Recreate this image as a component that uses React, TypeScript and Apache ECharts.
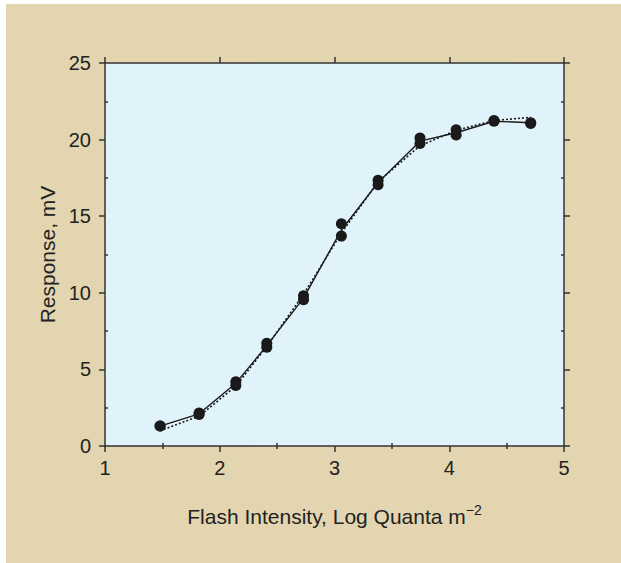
import React, { useEffect, useRef } from "react";
import * as echarts from "echarts";

const xTickLabels = ["1", "2", "3", "4", "5"];
const yTickLabels = ["0", "5", "10", "15", "20", "25"];

const intensity = [1.48, 1.82, 2.14, 2.41, 2.73, 3.06, 3.38, 3.745, 4.06, 4.39, 4.71];
const responseA = [1.3, 2.15, 4.2, 6.7, 9.8, 14.5, 17.35, 20.1, 20.65, 21.25, 21.1];
const responseB = [1.3, 2.05, 3.95, 6.45, 9.55, 13.7, 17.05, 19.75, 20.3, 21.2, 21.05];
const meanLine = [1.3, 2.1, 4.1, 6.55, 9.65, 14.1, 17.2, 19.9, 20.45, 21.2, 21.1];
const fitLine = [1.0, 1.95, 3.9, 6.5, 9.9, 13.9, 17.25, 19.6, 20.6, 21.25, 21.45];

const TAN = "#e2d5b0";
const PLOT = "#e0f3fa";
const INK = "#1a1a1a";
const FONT = "Liberation Sans, Arial, Helvetica, sans-serif";

export default function App() {
  const ref = useRef<HTMLDivElement>(null);
  useEffect(() => {
    if (!ref.current) return;
    const chart = echarts.init(ref.current, undefined, { renderer: "svg" });
    const pts = (ys: number[]) => intensity.map((x, i) => [x, ys[i]]);
    const axisBase = {
      type: "value" as const,
      splitLine: { show: false },
      axisLine: { show: true, onZero: false, lineStyle: { color: "#333", width: 1.5 } },
    };
    const xCommon = { ...axisBase, min: 1, max: 5, interval: 1 };
    const yCommon = { ...axisBase, min: 0, max: 25, interval: 5 };
    const majorOut = { show: true, inside: false, length: 6, lineStyle: { color: "#333", width: 1.5 } };
    const minorIn = {
      axisTick: { show: false, inside: true },
      minorTick: { show: true, splitNumber: 2, length: 3, lineStyle: { color: "#333", width: 1.5 } },
      axisLabel: { show: false },
    };
    chart.setOption({
      animation: false,
      backgroundColor: "#ffffff",
      textStyle: { fontFamily: FONT },
      graphic: [
        { type: "rect", z: -10, silent: true, shape: { x: 6, y: 4, width: 700, height: 700 }, style: { fill: TAN } },
      ],
      grid: {
        left: 105, top: 63, right: 57, bottom: 117,
        show: true, backgroundColor: PLOT, borderWidth: 0,
      },
      xAxis: [
        {
          ...xCommon, position: "bottom",
          axisTick: majorOut,
          axisLabel: { show: true, color: "#222", fontSize: 20, fontFamily: FONT, margin: 12,
            formatter: (v: number) => xTickLabels[Math.round(v) - 1] ?? "" },
          name: "{a|Flash Intensity, Log Quanta m}{s|−2}",
          nameLocation: "middle", nameGap: 57,
          nameTextStyle: {
            color: "#222", fontFamily: FONT,
            rich: {
              a: { fontSize: 21, fontFamily: FONT, color: "#222" },
              s: { fontSize: 14, fontFamily: FONT, color: "#222", padding: [0, 0, 12, 0] },
            },
          },
        },
        { ...xCommon, position: "top", axisTick: majorOut, axisLabel: { show: false } },
        { ...xCommon, position: "bottom", axisLine: { show: false }, ...minorIn },
        { ...xCommon, position: "top", axisLine: { show: false }, ...minorIn },
      ],
      yAxis: [
        {
          ...yCommon, position: "left",
          axisTick: majorOut,
          axisLabel: { show: true, color: "#222", fontSize: 20, fontFamily: FONT, margin: 14,
            formatter: (v: number) => yTickLabels[Math.round(v / 5)] ?? "" },
          name: "Response, mV",
          nameLocation: "middle", nameGap: 46,
          nameTextStyle: { color: "#222", fontSize: 21, fontFamily: FONT },
        },
        { ...yCommon, position: "right", axisTick: majorOut, axisLabel: { show: false } },
        { ...yCommon, position: "left", axisLine: { show: false }, ...minorIn },
        { ...yCommon, position: "right", axisLine: { show: false }, ...minorIn },
      ],
      series: [
        {
          type: "line", data: pts(fitLine), showSymbol: false, symbol: "none",
          lineStyle: { color: INK, width: 1.6, type: [2, 2] }, z: 2,
        },
        {
          type: "line", data: pts(meanLine), showSymbol: false, symbol: "none",
          lineStyle: { color: INK, width: 1.4 }, z: 3,
        },
        {
          type: "scatter", data: pts(responseA), symbol: "circle", symbolSize: 11,
          itemStyle: { color: INK, opacity: 1 }, z: 4,
        },
        {
          type: "scatter", data: pts(responseB), symbol: "circle", symbolSize: 11,
          itemStyle: { color: INK, opacity: 1 }, z: 4,
        },
      ],
    });
    return () => chart.dispose();
  }, []);
  return (
    <div
      ref={ref}
      style={{ position: "fixed", left: 0, top: 0, width: 621, height: 563 }}
    />
  );
}
